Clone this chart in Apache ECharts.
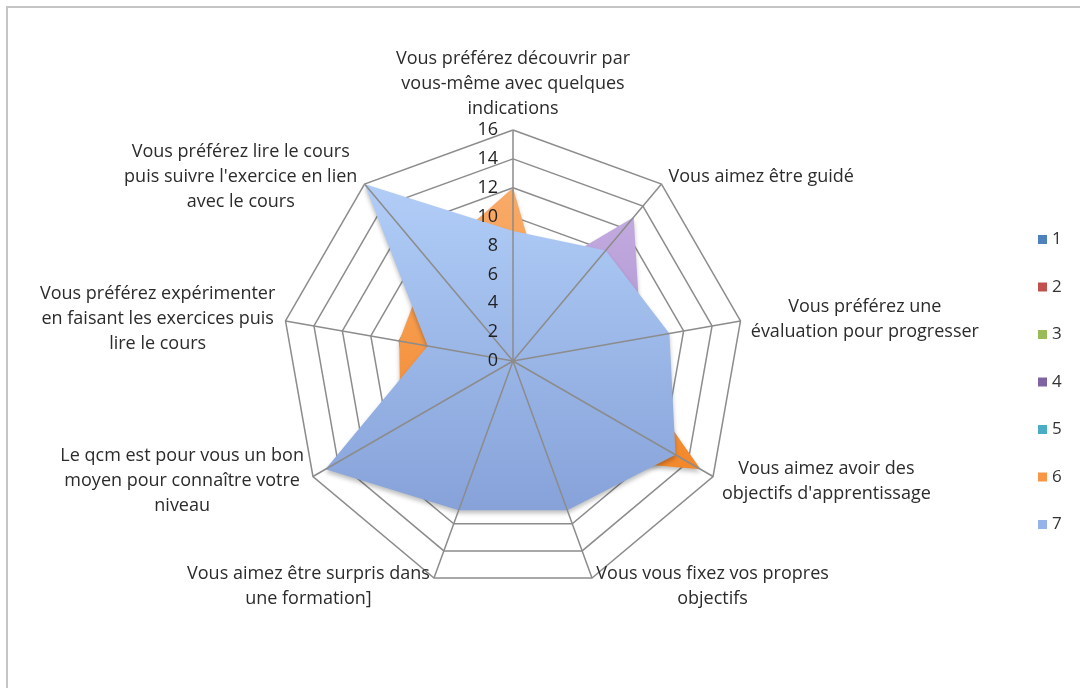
<!DOCTYPE html>
<html>
<head>
<meta charset="utf-8">
<script src="https://cdn.jsdelivr.net/npm/echarts@6/dist/echarts.min.js"></script>
<style>
html,body{margin:0;padding:0;background:#fff;}
#chart{width:1080px;height:688px;}
</style>
</head>
<body>
<div id="chart"></div>
<script>
// Axes listed clockwise starting from the top, as in the reference
const categories = [
  "Vous préférez découvrir par\nvous-même avec quelques\nindications",
  "Vous aimez être guidé",
  "Vous préférez une\névaluation pour progresser",
  "Vous aimez avoir des\nobjectifs d'apprentissage",
  "Vous vous fixez vos propres\nobjectifs",
  "Vous aimez être surpris dans\nune formation]",
  "Le qcm est pour vous un bon\nmoyen pour connaître votre\nniveau",
  "Vous préférez expérimenter\nen faisant les exercices puis\nlire le cours",
  "Vous préférez lire le cours\npuis suivre l'exercice en lien\navec le cours"
];
const seriesNames = ["1", "2", "3", "4", "5", "6", "7"];
const s1 = [2, 1, 2, 3, 2, 1, 2, 1, 2];
const s2 = [1, 0, 1, 1, 1, 2, 1, 0, 1];
const s3 = [1, 2, 1, 1, 0, 1, 1, 1, 1];
const s4 = [5, 13, 9, 6, 4, 3, 5, 3, 6];
const s5 = [2, 1, 3, 2, 2, 2, 3, 2, 1];
const s6 = [12, 4, 7, 15, 7, 8, 9, 8, 9];
const s7 = [9, 10, 11, 13, 11, 11, 15, 6, 16];
const seriesValues = [s1, s2, s3, s4, s5, s6, s7];
const tickMax = 16;
const tickStep = 2;

const solidColors = ["#4F81BD", "#C0504D", "#9BBB59", "#8064A2", "#4BACC6", "#F79646", "#94B3E8"];
const gradColors = [
  ["#6f9bd6", "#3f6fb0"],
  ["#da6e6b", "#b5413e"],
  ["#b4d27a", "#8aab4c"],
  ["#c2aadf", "#a98ccc"],
  ["#6fc4da", "#3d9db6"],
  ["#f9ab69", "#f3882a"],
  ["#b1cdf7", "#86a2d9"]
];

// ECharts radar runs counter-clockwise: keep first axis, reverse the rest
function toCCW(arr) { return [arr[0]].concat(arr.slice(1).reverse()); }

const FONT = "Open Sans";
const NAME_SIZE = 18;
const ctx = document.createElement("canvas").getContext("2d");
ctx.font = NAME_SIZE + "px " + FONT;
const rich = {};
const nameIndex = {};
categories.forEach(function (c, i) {
  const w = Math.max.apply(null, c.split("\n").map(function (l) { return ctx.measureText(l).width; }));
  rich["w" + i] = { width: Math.ceil(w) + 2, align: "center", fontFamily: FONT, fontSize: NAME_SIZE, color: "#2b2b2b", lineHeight: 25 };
  nameIndex[c] = i;
});

const CENTER = [513, 361];
const RADIUS = 231;

const chart = echarts.init(document.getElementById("chart"), null, { renderer: "canvas" });

const series = seriesNames.map(function (n, i) {
  return {
    type: "radar",
    name: n,
    z: 2 + i * 0.01,
    symbol: "none",
    lineStyle: { width: 0 },
    itemStyle: { color: solidColors[i] },
    areaStyle: {
      opacity: 1,
      color: new echarts.graphic.LinearGradient(0, 0, 0, 1, [
        { offset: 0, color: gradColors[i][0] },
        { offset: 1, color: gradColors[i][1] }
      ]),
      shadowColor: "rgba(0,0,0,0.25)",
      shadowBlur: 4,
      shadowOffsetY: 3
    },
    data: [{ name: n, value: toCCW(seriesValues[i]) }]
  };
});

const option = {
  animation: false,
  backgroundColor: "#ffffff",
  graphic: [{
    type: "rect",
    shape: { x: 7, y: 7, width: 1100, height: 720 },
    style: { fill: "none", stroke: "#c4c4c4", lineWidth: 2 },
    z: 0
  }],
  legend: {
    orient: "vertical",
    left: 1033,
    top: 225,
    itemWidth: 9,
    itemHeight: 9,
    itemGap: 28.5,
    icon: "rect",
    data: seriesNames,
    textStyle: { fontFamily: FONT, fontSize: 17, color: "#333", lineHeight: 19 }
  },
  radar: {
    center: CENTER,
    radius: RADIUS,
    startAngle: 90,
    shape: "polygon",
    splitNumber: tickMax / tickStep,
    nameGap: 9,
    axisName: {
      fontFamily: FONT,
      fontSize: NAME_SIZE,
      color: "#2b2b2b",
      rich: rich,
      formatter: function (name) {
        const i = nameIndex[name];
        return name.split("\n").map(function (l) { return "{w" + i + "|" + l + "}"; }).join("\n");
      }
    },
    axisLine: { show: false },
    axisTick: { show: false },
    axisLabel: { show: false },
    splitArea: { show: false },
    splitLine: { lineStyle: { color: "#8c8c8c", width: 1.5 } },
    indicator: toCCW(categories).map(function (c) { return { name: c, min: 0, max: tickMax }; })
  },
  polar: { center: CENTER, radius: RADIUS, z: 10 },
  angleAxis: {
    type: "value",
    min: 0,
    max: 360,
    interval: 360 / categories.length,
    startAngle: 90,
    z: 10,
    axisLine: { show: false },
    axisTick: { show: false },
    axisLabel: { show: false },
    splitLine: { show: true, lineStyle: { color: "#8c8c8c", width: 1.5 } }
  },
  radiusAxis: {
    type: "value",
    min: 0,
    max: tickMax,
    interval: tickStep,
    z: 10,
    axisLine: { show: false },
    axisTick: { show: false },
    splitLine: { show: false },
    axisLabel: { show: true, margin: 15, fontFamily: FONT, fontSize: 18, color: "#1f1f1f" }
  },
  series: series
};
chart.setOption(option);
</script>
</body>
</html>
